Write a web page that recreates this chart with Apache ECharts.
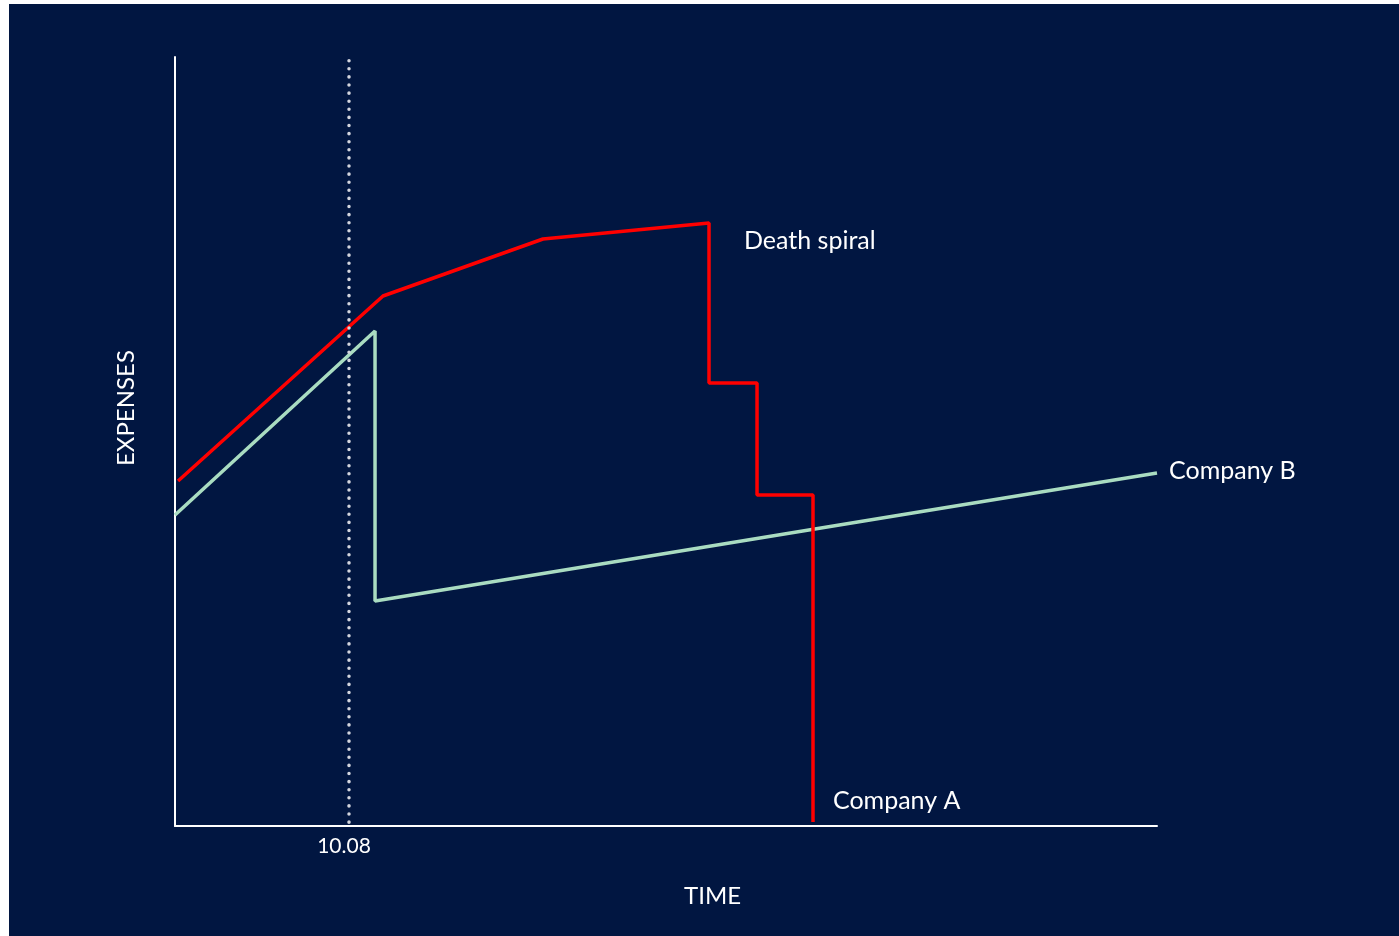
<!DOCTYPE html>
<html>
<head>
<meta charset="utf-8">
<script src="https://cdn.jsdelivr.net/npm/echarts@6/dist/echarts.min.js"></script>
<style>
html,body{margin:0;padding:0;background:#ffffff;width:1399px;height:936px;overflow:hidden;}
#chart{position:absolute;left:9px;top:4px;width:1390px;height:932px;background:#011641;}
</style>
</head>
<body>
<div id="chart"></div>
<script>
// Time (0-100 relative scale), expenses (0-100 relative scale)
const companyA_time = [0.31, 21.18, 37.47, 54.38, 54.38, 59.27, 59.27, 64.97, 64.97];
const companyA_exp  = [44.86, 68.92, 76.33, 78.41, 57.61, 57.61, 43.04, 43.04, 0.52];
const companyB_time = [0, 20.37, 20.37, 100];
const companyB_exp  = [40.44, 64.37, 29.26, 45.90];
const markerTime = 17.72;
const markerLabel = '10.08';
const deathSpiralLabelPos = [57.94, 76.07];
const companyALabelPos = [67.0, 3.25];

const font = 'Lato, "Open Sans", sans-serif';
const chart = echarts.init(document.getElementById('chart'));
chart.setOption({
  backgroundColor: '#011641',
  animation: false,
  grid: {left: 166, right: 242, top: 53, bottom: 110},
  xAxis: {
    type: 'value', min: 0, max: 100,
    axisLine: {show: true, lineStyle: {color: '#ffffff', width: 2}},
    axisTick: {show: false},
    splitLine: {show: false},
    axisLabel: {
      customValues: [markerTime],
      formatter: () => markerLabel,
      color: '#ffffff', fontSize: 21, fontFamily: font, margin: 10,
      padding: [0, 10, 0, 0]
    }
  },
  yAxis: {
    type: 'value', min: 0, max: 100,
    axisLine: {show: true, lineStyle: {color: '#ffffff', width: 2}},
    axisTick: {show: false},
    splitLine: {show: false},
    axisLabel: {show: false}
  },
  graphic: [
    {type: 'text', left: 684 - 9, top: 884 - 4, style: {text: 'TIME', fill: '#ffffff', font: '24px ' + font}},
    {type: 'text', x: 114 - 9, y: 466 - 4, rotation: Math.PI / 2, style: {text: 'EXPENSES', fill: '#ffffff', font: '24px ' + font, textAlign: 'left', textVerticalAlign: 'top'}}
  ],
  series: [
    {
      name: 'Company B', type: 'line', symbol: 'none',
      data: companyB_time.map((t, i) => [t, companyB_exp[i]]),
      lineStyle: {color: '#a9dcc1', width: 3.5},
      endLabel: {show: true, formatter: 'Company B', color: '#ffffff', fontSize: 25, fontFamily: font, distance: 12, offset: [0, -2]},
      z: 3
    },
    {
      name: 'Company A', type: 'line', symbol: 'none',
      data: companyA_time.map((t, i) => [t, companyA_exp[i]]),
      lineStyle: {color: '#ff0000', width: 3.5},
      z: 4,
      markLine: {
        silent: true, symbol: 'none',
        lineStyle: {color: '#d4d6de', width: 3.5, type: [0.1, 8], cap: 'round'},
        label: {show: false},
        data: [[{coord: [markerTime, 0.5]}, {coord: [markerTime, 100]}]]
      },
      markPoint: {
        symbol: 'circle', symbolSize: 0,
        label: {show: true, position: 'right', distance: 0, color: '#ffffff', fontSize: 25, fontFamily: font, formatter: p => p.name},
        data: [
          {name: 'Death spiral', coord: deathSpiralLabelPos},
          {name: 'Company A', coord: companyALabelPos}
        ]
      }
    }
  ]
});
</script>
</body>
</html>
